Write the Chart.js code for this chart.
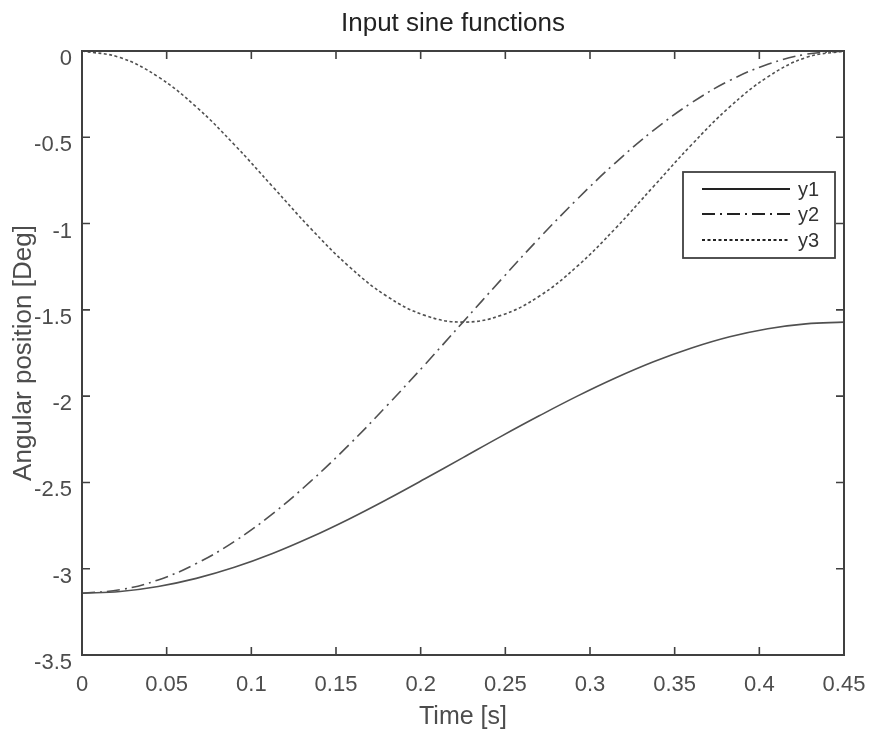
<!DOCTYPE html>
<html>
<head>
<meta charset="utf-8">
<script src="https://cdn.jsdelivr.net/npm/chart.js@4/dist/chart.umd.min.js"></script>
<style>
html,body{margin:0;padding:0;background:#fff;}
#wrap{width:869px;height:735px;}
</style>
</head>
<body>
<div id="wrap"><canvas id="c" width="869" height="735"></canvas></div>
<script>
// ---- data ----
const timeValues = [0,0.0225,0.045,0.0675,0.09,0.1125,0.135,0.1575,0.18,0.2025,0.225,0.2475,0.27,0.2925,0.315,0.3375,0.36,0.3825,0.405,0.4275,0.45];
const y1Values = [-3.142,-3.132,-3.103,-3.056,-2.992,-2.912,-2.818,-2.713,-2.599,-2.479,-2.356,-2.233,-2.114,-2.000,-1.895,-1.801,-1.721,-1.656,-1.609,-1.581,-1.571];
const y2Values = [-3.142,-3.122,-3.065,-2.970,-2.842,-2.682,-2.494,-2.284,-2.056,-1.817,-1.571,-1.325,-1.085,-0.858,-0.648,-0.460,-0.300,-0.171,-0.077,-0.019,0];
const y3Values = [0,-0.038,-0.150,-0.324,-0.543,-0.785,-1.028,-1.247,-1.421,-1.532,-1.571,-1.532,-1.421,-1.247,-1.028,-0.785,-0.543,-0.324,-0.150,-0.038,0];
const seriesNames = ['y1','y2','y3'];
const xTickValues = [0,0.05,0.1,0.15,0.2,0.25,0.3,0.35,0.4,0.45];
const yTickValues = [-3.5,-3,-2.5,-2,-1.5,-1,-0.5,0];
const chartTitle = 'Input sine functions';

const FONT = "'Liberation Sans', Arial, Helvetica, sans-serif";
const AXIS = '#404040';
const LINE = '#505050';
const dashes = [[], [13,5,2,5], [3,2.5]];

function pts(arr){ return timeValues.map((t,i)=>({x:t,y:arr[i]})); }

const datasets = [y1Values,y2Values,y3Values].map((arr,i)=>({
  label: seriesNames[i],
  data: pts(arr),
  borderColor: LINE,
  borderWidth: 1.6,
  borderDash: dashes[i],
  pointRadius: 0,
  fill: false,
  tension: 0.4
}));

const boxPlugin = {
  id: 'matlabBox',
  afterDatasetsDraw(chart){
    const {ctx, chartArea:a, scales} = chart;
    ctx.save();
    // title
    ctx.fillStyle = '#222';
    ctx.font = '26px ' + FONT;
    ctx.textAlign = 'center';
    ctx.textBaseline = 'middle';
    ctx.fillText(chartTitle, (a.left + a.right) / 2 - 10, 24);

    ctx.strokeStyle = AXIS;
    ctx.lineWidth = 1.6;
    const tl = 8;
    ctx.beginPath();
    xTickValues.forEach(v=>{
      const px = scales.x.getPixelForValue(v);
      ctx.moveTo(px, a.bottom); ctx.lineTo(px, a.bottom - tl);
      ctx.moveTo(px, a.top); ctx.lineTo(px, a.top + tl);
    });
    yTickValues.forEach(v=>{
      const py = scales.y.getPixelForValue(v);
      ctx.moveTo(a.left, py); ctx.lineTo(a.left + tl, py);
      ctx.moveTo(a.right, py); ctx.lineTo(a.right - tl, py);
    });
    ctx.stroke();
    ctx.lineWidth = 2;
    ctx.strokeRect(a.left, a.top, a.right - a.left, a.bottom - a.top);

    // legend
    const bx = a.right - 161, by = a.top + 121, bw = 152, bh = 86;
    ctx.fillStyle = '#fff';
    ctx.fillRect(bx, by, bw, bh);
    ctx.lineWidth = 1.8;
    ctx.strokeStyle = AXIS;
    ctx.strokeRect(bx, by, bw, bh);
    const rows = [17, 42, 68];
    ctx.font = '20px ' + FONT;
    ctx.textBaseline = 'middle';
    ctx.textAlign = 'left';
    chart.data.datasets.forEach((ds,i)=>{
      ctx.beginPath();
      ctx.setLineDash(ds.borderDash);
      ctx.strokeStyle = '#222';
      ctx.lineWidth = 1.8;
      ctx.moveTo(bx + 19, by + rows[i]);
      ctx.lineTo(bx + 107, by + rows[i]);
      ctx.stroke();
      ctx.setLineDash([]);
      ctx.fillStyle = '#333';
      ctx.fillText(ds.label, bx + 115, by + rows[i] + 1);
    });
    ctx.restore();
  }
};

new Chart(document.getElementById('c'), {
  type: 'line',
  data: { datasets },
  options: {
    responsive: false,
    animation: false,
    layout: { padding: { left: 0, right: 25, top: 51, bottom: 0 } },
    plugins: {
      legend: { display: false },
      tooltip: { enabled: false },
      title: { display: false }
    },
    scales: {
      x: {
        type: 'linear',
        min: 0, max: 0.45,
        afterBuildTicks(scale){ scale.ticks = xTickValues.map(v=>({value:v})); },
        afterFit(scale){ scale.height = 80; scale.paddingLeft = 0; scale.paddingRight = 0; },
        grid: { display: false, drawTicks: false },
        border: { display: false },
        ticks: {
          autoSkip: false, maxRotation: 0,
          padding: 17,
          color: '#4d4d4d',
          font: { family: FONT, size: 22 },
          callback: v => String(Number(v.toFixed(2)))
        },
        title: {
          display: true, text: 'Time [s]', color: '#4d4d4d',
          font: { family: FONT, size: 25 },
          padding: { top: 0, bottom: 3 }
        }
      },
      y: {
        type: 'linear',
        min: -3.5, max: 0,
        afterBuildTicks(scale){ scale.ticks = yTickValues.map(v=>({value:v})); },
        afterFit(scale){ scale.width = 82; scale.paddingTop = 0; scale.paddingBottom = 0; },
        grid: { display: false, drawTicks: false },
        border: { display: false },
        ticks: {
          autoSkip: false,
          padding: 10,
          labelOffset: 8,
          color: '#4d4d4d',
          font: { family: FONT, size: 22 },
          callback: v => String(Number(v.toFixed(2)))
        },
        title: {
          display: true, text: 'Angular position [Deg]', color: '#4d4d4d',
          font: { family: FONT, size: 26 },
          padding: { top: 8, bottom: 0 }
        }
      }
    }
  },
  plugins: [boxPlugin]
});
</script>
</body>
</html>
